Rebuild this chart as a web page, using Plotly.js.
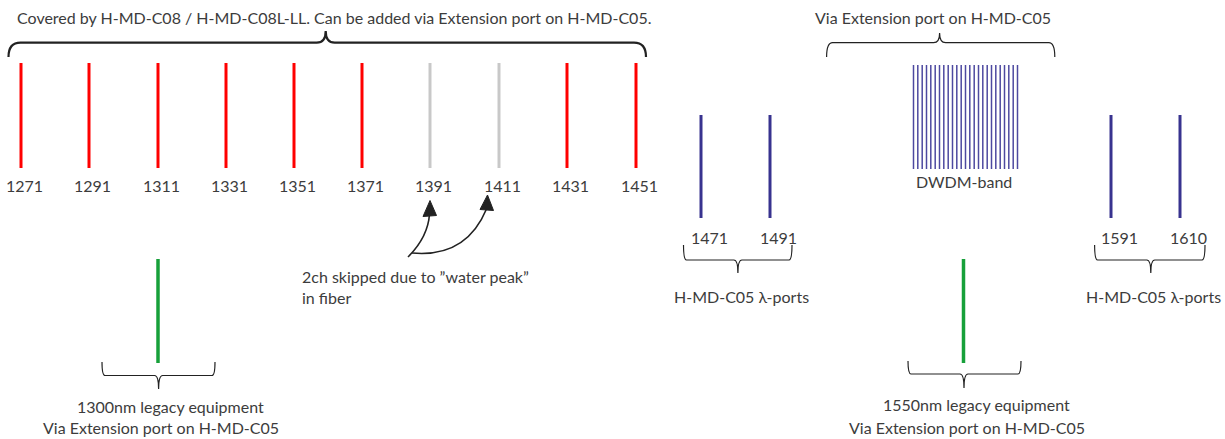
<!DOCTYPE html>
<html>
<head>
<meta charset="utf-8">
<script src="https://cdn.plot.ly/plotly-3.0.1.min.js"></script>
<style>html,body{margin:0;padding:0;background:#fff;}#chart{width:1225px;height:439px;}</style>
</head>
<body>
<div id="chart"></div>
<script>
// ---- data ----
const cwdmLabels = ['1271','1291','1311','1331','1351','1371','1391','1411','1431','1451'];
const cwdmX = [21, 89, 158, 226, 294, 362, 430, 499, 567, 636];
const cwdmSkipped = [false,false,false,false,false,false,true,true,false,false];
const c05Labels = ['1471','1491','1591','1610'];
const c05X = [701, 770, 1111, 1180];
const dwdmX = [913.5,917.8,922.2,926.5,930.8,935.2,939.5,943.8,948.2,952.5,956.8,961.2,965.5,969.8,974.2,978.5,982.8,987.2,991.5,995.8,1000.2,1004.5,1008.8,1013.2,1017.5];
const legacyLabels = ['1300nm','1550nm'];
const legacyX = [158, 963.5];

const FONT = 'Lato, "Open Sans", sans-serif';
const TXT = '#3c3c3c';
const FS = 16;

function seg(xs, y0, y1) {
  const X = [], Y = [];
  xs.forEach(x => { X.push(x, x, null); Y.push(y0, y1, null); });
  return {X, Y};
}
function lineTrace(xs, y0, y1, color, width) {
  const s = seg(xs, y0, y1);
  return {type:'scatter', mode:'lines', x:s.X, y:s.Y, line:{color:color, width:width},
          hoverinfo:'skip', showlegend:false};
}

const redX = cwdmX.filter((x,i)=>!cwdmSkipped[i]);
const greyX = cwdmX.filter((x,i)=>cwdmSkipped[i]);

const traces = [
  lineTrace(redX, 63, 168, '#ff0000', 3),
  lineTrace(greyX, 63, 168, '#c8c8c8', 3),
  lineTrace(c05X, 115, 218, '#38338f', 3),
  lineTrace(dwdmX, 65, 169, '#4d49a0', 1.5),
  lineTrace(legacyX, 259, 363, '#17a03a', 3.5)
];

// braces: [x1, x2, xtip, yEnd, yH, yTip, rEnd, rTip, width]
function brace(b) {
  const [x1,x2,xt,ye,yh,yt,r,rt] = b;
  return `M ${x1},${ye} Q ${x1},${yh} ${x1+r},${yh} L ${xt-rt},${yh} Q ${xt},${yh} ${xt},${yt} ` +
         `Q ${xt},${yh} ${xt+rt},${yh} L ${x2-r},${yh} Q ${x2},${yh} ${x2},${ye}`;
}
const braces = [
  [8.5, 646, 325.7, 57, 42.7, 31, 12, 9, 2.2],
  [826.6, 1054.8, 939.6, 57, 42.7, 33, 6, 6, 1.2],
  [683.5, 792, 737.9, 245, 260, 273, 3, 4, 1.2],
  [1094.6, 1205, 1150.8, 245, 260, 273, 3, 4, 1.2],
  [102, 215, 158.6, 362, 375.5, 389, 3, 4, 1.2],
  [908, 1021, 964, 361, 374, 388, 3, 4, 1.2]
];
const shapes = braces.map(b => ({type:'path', path:brace(b), xref:'x', yref:'y',
  line:{color:'#222', width:b[8]}, fillcolor:'rgba(0,0,0,0)'}));

// arrows for skipped channels
shapes.push({type:'path', xref:'x', yref:'y', path:'M 408,257 Q 428,237 429.5,214', line:{color:'#222', width:1.6}});
shapes.push({type:'path', xref:'x', yref:'y', path:'M 412,253 Q 466,258 486.5,209', line:{color:'#222', width:1.6}});
shapes.push({type:'path', xref:'x', yref:'y', path:'M 430,200.5 L 423,216.5 L 436.5,215.5 Z', line:{color:'#222', width:1}, fillcolor:'#222'});
shapes.push({type:'path', xref:'x', yref:'y', path:'M 487.5,195 L 480,209.5 L 493.5,210.5 Z', line:{color:'#222', width:1}, fillcolor:'#222'});

function ann(text, x, y, size, opts) {
  return Object.assign({text:text, x:x, y:y, xref:'x', yref:'y', showarrow:false,
    xanchor:'center', yanchor:'middle', font:{family:FONT, size:size, color:TXT}}, opts||{});
}
const annotations = [];
cwdmLabels.forEach((l,i)=>annotations.push(ann(l, cwdmX[i], 185, FS, {xshift:3})));
c05Labels.forEach((l,i)=>annotations.push(ann(l, c05X[i], 237, FS, {xshift:8})));
annotations.push(ann('Covered by H-MD-C08 / H-MD-C08L-LL. Can be added via Extension port on H-MD-C05.', 334, 17, FS));
annotations.push(ann('Via Extension port on H-MD-C05', 933, 17, FS));
annotations.push(ann('DWDM-band', 964, 181, FS));
annotations.push(ann('H-MD-C05 λ-ports', 741, 296, FS));
annotations.push(ann('H-MD-C05 λ-ports', 1153, 296, FS));
annotations.push(ann('2ch skipped due to ”water peak”', 300, 276, FS, {xanchor:'left'}));
annotations.push(ann('in fiber', 300, 297, FS, {xanchor:'left'}));
annotations.push(ann(legacyLabels[0] + ' legacy equipment', 170, 406, FS));
annotations.push(ann('Via Extension port on H-MD-C05', 161, 427.5, FS));
annotations.push(ann(legacyLabels[1] + ' legacy equipment', 976, 404.5, FS));
annotations.push(ann('Via Extension port on H-MD-C05', 967, 427, FS));

const layout = {
  width:1225, height:439, margin:{l:0,r:0,t:0,b:0},
  paper_bgcolor:'#ffffff', plot_bgcolor:'#ffffff',
  xaxis:{range:[0,1225], visible:false, fixedrange:true},
  yaxis:{range:[439,0], visible:false, fixedrange:true},
  shapes:shapes, annotations:annotations, showlegend:false
};
Plotly.newPlot('chart', traces, layout, {staticPlot:true, displayModeBar:false});
</script>
</body>
</html>
